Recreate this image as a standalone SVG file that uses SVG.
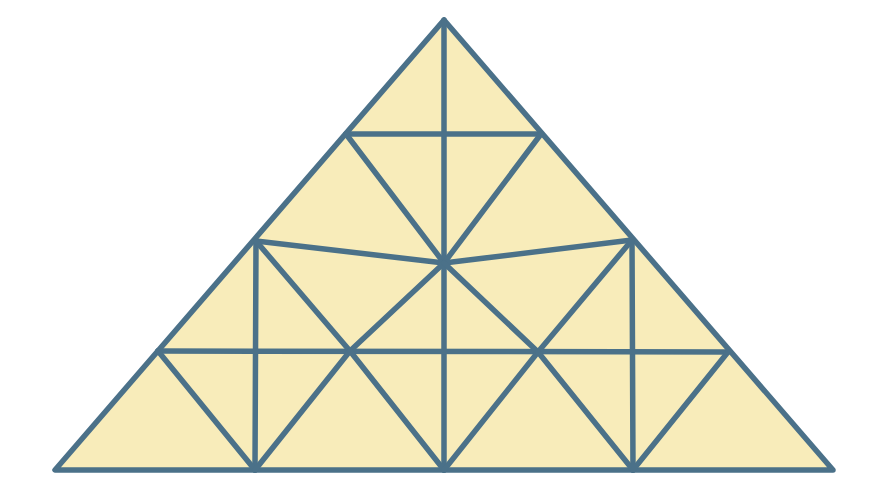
<svg xmlns="http://www.w3.org/2000/svg" width="889" height="500" viewBox="0 0 889 500">
<style>
.e{stroke:#4b7189;stroke-width:5.5;stroke-linecap:round;stroke-linejoin:round;fill:none}
</style>
<rect width="889" height="500" fill="#ffffff"/>
<polygon points="444,20 55,470 833,470" fill="#f8ecba"/>
<g id="lines" class="e">
<polygon points="444,20 55,470 833,470"/>
<line x1="444" y1="20" x2="444" y2="470"/>
<line x1="346" y1="134" x2="541" y2="134"/>
<line x1="346" y1="134" x2="444" y2="263"/>
<line x1="541" y1="134" x2="444" y2="263"/>
<line x1="256" y1="241" x2="444" y2="263"/>
<line x1="632" y1="240" x2="444" y2="263"/>
<line x1="256" y1="241" x2="255" y2="470"/>
<line x1="632" y1="240" x2="633" y2="470"/>
<line x1="158" y1="351" x2="728" y2="352"/>
<line x1="256" y1="241" x2="350" y2="351"/>
<line x1="444" y1="263" x2="350" y2="351"/>
<line x1="444" y1="263" x2="538" y2="352"/>
<line x1="632" y1="240" x2="538" y2="352"/>
<line x1="158" y1="351" x2="255" y2="470"/>
<line x1="350" y1="351" x2="255" y2="470"/>
<line x1="350" y1="351" x2="444" y2="470"/>
<line x1="538" y1="352" x2="444" y2="470"/>
<line x1="538" y1="352" x2="633" y2="470"/>
<line x1="728" y1="352" x2="633" y2="470"/>
</g>
</svg>
